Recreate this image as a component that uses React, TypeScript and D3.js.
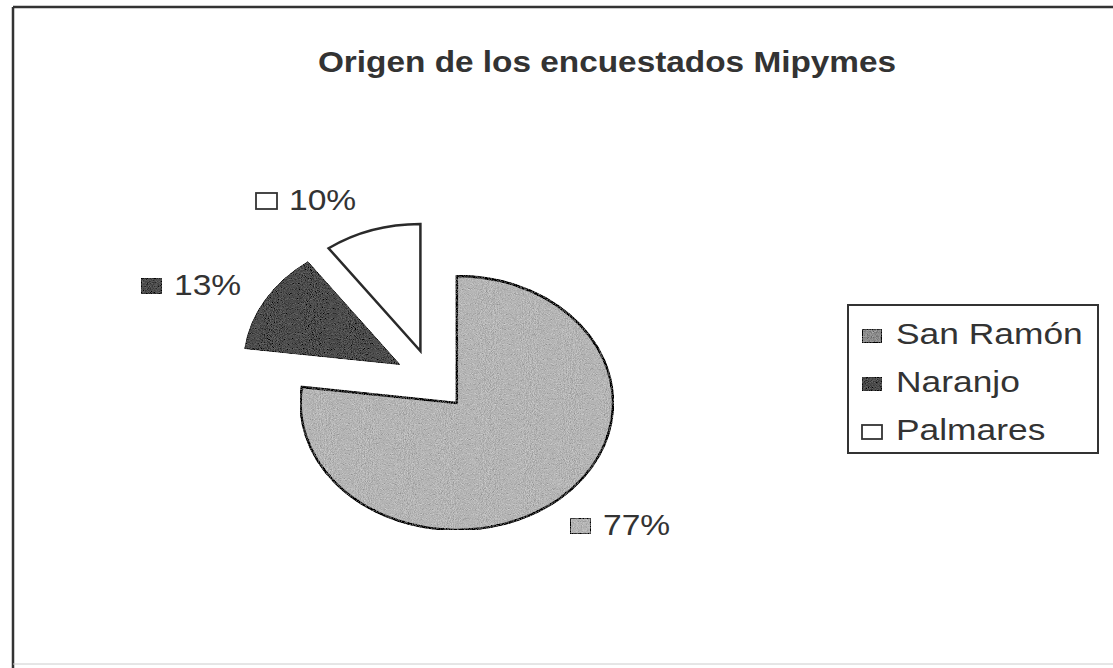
import React from 'react';
import * as d3 from 'd3';

// datos del grafico
const categories = ['San Ramón', 'Naranjo', 'Palmares'];
const values = [77, 13, 10];
const pctLabels = ['77%', '13%', '10%'];
const title = 'Origen de los encuestados Mipymes';

const W = 1113;
const H = 668;
const cx = 432;
const cy = 380;
const R = 127;
const SX = 1.23; // la imagen original esta estirada a lo ancho
const EXPLODE = 30.5;

const fills = ['#b5b5b5', '#4d4d4d', '#ffffff'];
const grain = ['url(#grainLight)', 'url(#grainDark)', undefined];
// posicion de las etiquetas: [x del cuadrito, linea base]
const labelPos = [[570, 535], [141, 295], [256, 210]];

function App() {
  const pie = d3.pie<number>().sort(null).startAngle(0).endAngle(2 * Math.PI);
  const arcs = pie(values);
  const arc = d3.arc<d3.PieArcDatum<number>>().innerRadius(0).outerRadius(R);

  return (
    <svg width={W} height={H} style={{ position: 'absolute', left: 0, top: 0, background: '#fff' }}
      fontFamily="'Liberation Sans', Arial, sans-serif">
      <defs>
        <filter id="grainLight" x="0" y="0" width="100%" height="100%">
          <feTurbulence type="fractalNoise" baseFrequency="1.2" numOctaves="1" seed="3" result="noise" />
          <feColorMatrix in="noise" type="matrix"
            values="0.33 0.33 0.33 0 0  0.33 0.33 0.33 0 0  0.33 0.33 0.33 0 0  0 0 0 0 1" result="gray" />
          <feComposite in="SourceGraphic" in2="gray" operator="arithmetic" k1="0" k2="1" k3="0.9" k4="-0.45" result="mix" />
          <feComposite in="mix" in2="SourceAlpha" operator="in" />
        </filter>
        <filter id="grainDark" x="0" y="0" width="100%" height="100%">
          <feTurbulence type="fractalNoise" baseFrequency="1.2" numOctaves="1" seed="7" result="noise" />
          <feColorMatrix in="noise" type="matrix"
            values="0.33 0.33 0.33 0 0  0.33 0.33 0.33 0 0  0.33 0.33 0.33 0 0  0 0 0 0 1" result="gray" />
          <feComposite in="SourceGraphic" in2="gray" operator="arithmetic" k1="0" k2="1" k3="0.5" k4="-0.25" result="mix" />
          <feComposite in="mix" in2="SourceAlpha" operator="in" />
        </filter>
      </defs>

      {/* marco */}
      <line x1={13} y1={7} x2={W} y2={7} stroke="#333" strokeWidth={2.5} />
      <line x1={13} y1={7} x2={13} y2={H} stroke="#333" strokeWidth={2.5} />
      <line x1={13} y1={664} x2={W} y2={664} stroke="#ccc" strokeWidth={1} />

      <text transform={`translate(607,72) scale(1.15,1)`} textAnchor="middle" fontSize={29}
        fontWeight="bold" fill="#333">{title}</text>

      {/* pastel separado */}
      <g transform={`translate(${cx},${cy}) scale(${SX},1)`}>
        {arcs.map((a, i) => {
          const mid = (a.startAngle + a.endAngle) / 2;
          const dx = EXPLODE * Math.sin(mid);
          const dy = -EXPLODE * Math.cos(mid);
          return (
            <g key={i} transform={`translate(${dx},${dy})`}>
              <path d={arc(a) || ''} fill={fills[i]} filter={grain[i]}
                stroke="#2a2a2a" strokeWidth={i === 1 ? 1 : 2.5} vectorEffect="non-scaling-stroke" />
            </g>
          );
        })}
      </g>

      {/* etiquetas */}
      {pctLabels.map((t, i) => {
        const [mx, by] = labelPos[i];
        return (
          <g key={i}>
            <rect x={mx} y={by - 17} width={21} height={16} fill={fills[i]} filter={grain[i]}
              stroke="#333" strokeWidth={1.8} />
            <text transform={`translate(${mx + 33},${by}) scale(1.12,1)`} fontSize={30} fill="#333">{t}</text>
          </g>
        );
      })}

      {/* leyenda */}
      <rect x={848} y={305} width={250} height={148} fill="#fff" stroke="#333" strokeWidth={2} />
      {categories.map((c, i) => {
        const by = 344 + i * 48;
        return (
          <g key={c}>
            <rect x={862} y={by - 15} width={20} height={14}
              fill={i === 0 ? '#8c8c8c' : fills[i]} filter={grain[i]} stroke="#333" strokeWidth={1.8} />
            <text transform={`translate(896,${by}) scale(1.22,1)`} fontSize={29} fill="#333">{c}</text>
          </g>
        );
      })}
    </svg>
  );
}

export default App;
